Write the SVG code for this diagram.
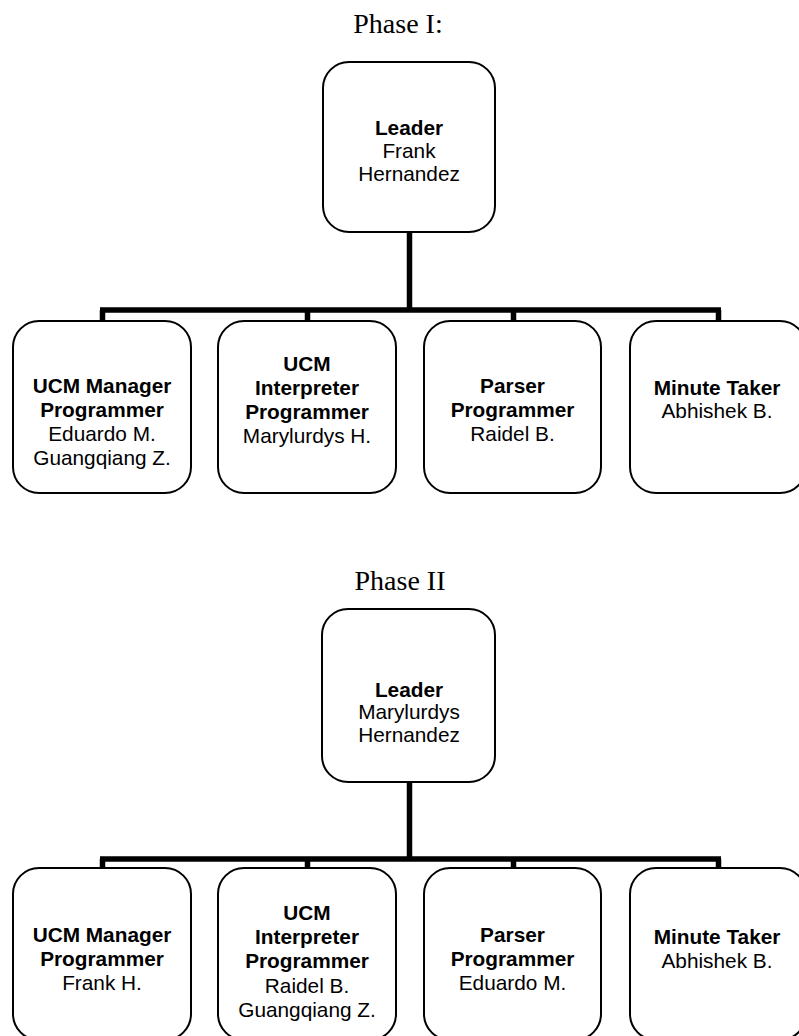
<svg xmlns="http://www.w3.org/2000/svg" width="799" height="1036" viewBox="0 0 799 1036">
  <style>
    .box { fill: #ffffff; stroke: #000000; stroke-width: 2; }
    .title { font-family: "Liberation Serif", "Times New Roman", serif; font-size: 28px; fill: #000; text-anchor: middle; }
    .lbl { font-family: "Liberation Sans", Arial, sans-serif; font-size: 20.8px; fill: #000; text-anchor: middle; }
    .b { font-weight: bold; }
    .wire { fill: none; stroke: #000000; stroke-width: 5.5; stroke-linecap: butt; stroke-linejoin: miter; }
  </style>
  <rect width="799" height="1036" fill="#ffffff"/>

  <!-- Phase I -->
  <text class="title" x="398" y="33">Phase I:</text>

  <g id="connectors-phase1">
    <path class="wire" d="M409.5 232 V310"/>
    <path class="wire" d="M100 310 H721"/>
    <path class="wire" d="M102.5 310 V321 M307.5 310 V321 M513.5 310 V321 M718.5 310 V321"/>
  </g>

  <g id="p1-leader">
    <rect class="box" x="323" y="62" width="172" height="170" rx="26"/>
    <text class="lbl b" x="409" y="135">Leader</text>
    <text class="lbl" x="409" y="158">Frank</text>
    <text class="lbl" x="409" y="181">Hernandez</text>
  </g>

  <g id="p1-ucm-manager">
    <rect class="box" x="13" y="321" width="178" height="172" rx="26"/>
    <text class="lbl b" x="102" y="393">UCM Manager</text>
    <text class="lbl b" x="102" y="417">Programmer</text>
    <text class="lbl" x="102" y="441">Eduardo M.</text>
    <text class="lbl" x="102" y="465">Guangqiang Z.</text>
  </g>

  <g id="p1-ucm-interpreter">
    <rect class="box" x="218" y="321" width="178" height="172" rx="26"/>
    <text class="lbl b" x="307" y="371">UCM</text>
    <text class="lbl b" x="307" y="395">Interpreter</text>
    <text class="lbl b" x="307" y="419">Programmer</text>
    <text class="lbl" x="307" y="443">Marylurdys H.</text>
  </g>

  <g id="p1-parser">
    <rect class="box" x="424" y="321" width="177" height="172" rx="26"/>
    <text class="lbl b" x="512.5" y="393">Parser</text>
    <text class="lbl b" x="512.5" y="417">Programmer</text>
    <text class="lbl" x="512.5" y="441">Raidel B.</text>
  </g>

  <g id="p1-minute-taker">
    <rect class="box" x="630" y="321" width="176" height="172" rx="26"/>
    <text class="lbl b" x="717" y="395">Minute Taker</text>
    <text class="lbl" x="717" y="418">Abhishek B.</text>
  </g>

  <!-- Phase II -->
  <text class="title" x="400" y="590">Phase II</text>

  <g id="connectors-phase2">
    <path class="wire" d="M409.5 782 V859"/>
    <path class="wire" d="M100 859 H721"/>
    <path class="wire" d="M102.5 859 V868 M307.5 859 V868 M513.5 859 V868 M718.5 859 V868"/>
  </g>

  <g id="p2-leader">
    <rect class="box" x="322" y="609" width="173" height="173" rx="26"/>
    <text class="lbl b" x="409" y="697">Leader</text>
    <text class="lbl" x="409" y="719">Marylurdys</text>
    <text class="lbl" x="409" y="742">Hernandez</text>
  </g>

  <g id="p2-ucm-manager">
    <rect class="box" x="13" y="868" width="178" height="172" rx="26"/>
    <text class="lbl b" x="102" y="942">UCM Manager</text>
    <text class="lbl b" x="102" y="966">Programmer</text>
    <text class="lbl" x="102" y="990">Frank H.</text>
  </g>

  <g id="p2-ucm-interpreter">
    <rect class="box" x="218" y="868" width="178" height="172" rx="26"/>
    <text class="lbl b" x="307" y="920">UCM</text>
    <text class="lbl b" x="307" y="944">Interpreter</text>
    <text class="lbl b" x="307" y="968">Programmer</text>
    <text class="lbl" x="307" y="993">Raidel B.</text>
    <text class="lbl" x="307" y="1017">Guangqiang Z.</text>
  </g>

  <g id="p2-parser">
    <rect class="box" x="424" y="868" width="177" height="172" rx="26"/>
    <text class="lbl b" x="512.5" y="942">Parser</text>
    <text class="lbl b" x="512.5" y="966">Programmer</text>
    <text class="lbl" x="512.5" y="990">Eduardo M.</text>
  </g>

  <g id="p2-minute-taker">
    <rect class="box" x="630" y="868" width="176" height="172" rx="26"/>
    <text class="lbl b" x="717" y="944">Minute Taker</text>
    <text class="lbl" x="717" y="968">Abhishek B.</text>
  </g>
</svg>
